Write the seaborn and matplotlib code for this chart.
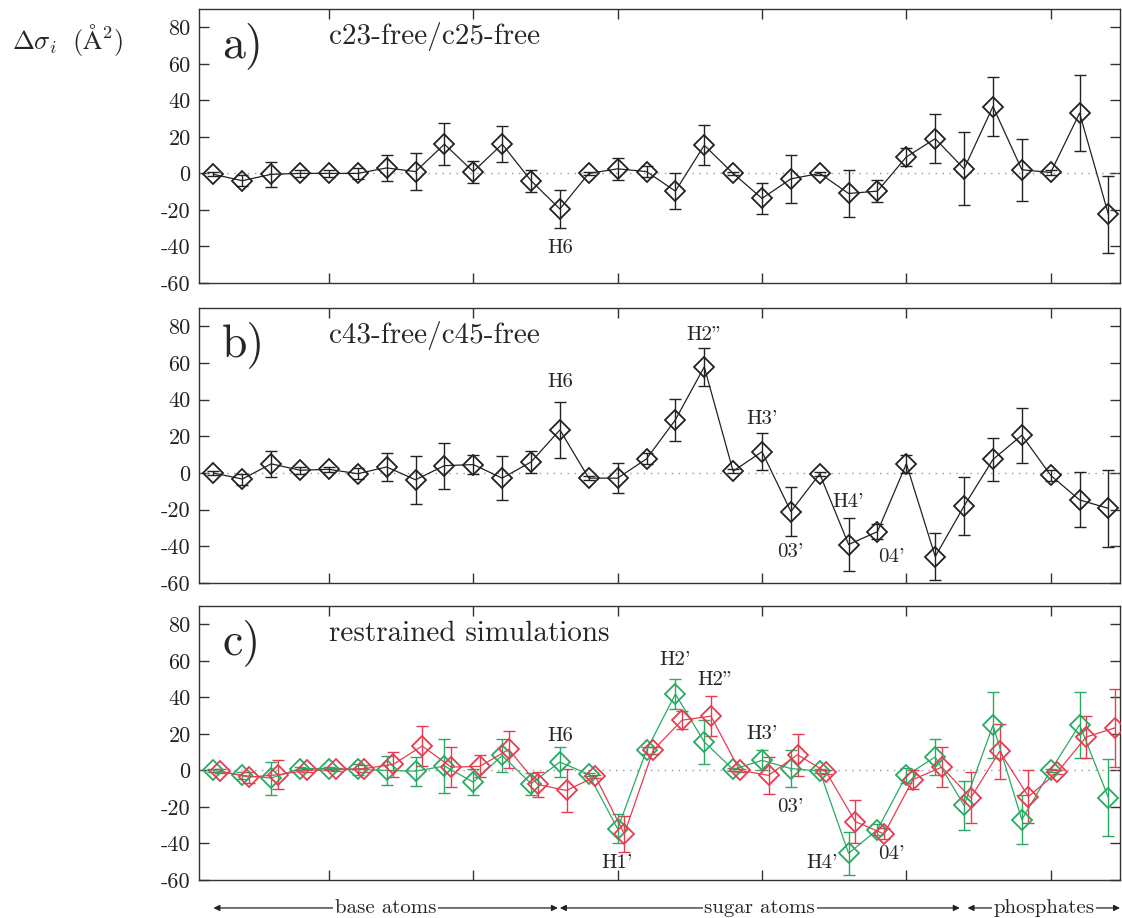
import numpy as np
import pandas as pd
import matplotlib
matplotlib.use("Agg")
import matplotlib.pyplot as plt
import seaborn as sns

# atom index along the x axis
atoms = list(range(1, 33))

# panel a) c23-free/c25-free
a_val = [-0.5, -4, -0.5, 0, 0, 0, 3, 1, 16, 1, 16, -4, -19.5, 0, 2.5, 1,
         -9.7, 15.4, 0, -13.7, -3, 0, -11, -9.7, 9, 19, 2.5, 36.6, 2, 0.5, 33, -22.5]
a_err = [1, 3, 7, 2, 2, 3, 7, 10, 11.5, 6, 10, 6, 10.5, 1, 6, 3,
         10, 11, 1, 8.5, 13, 1, 13, 6, 5, 13.5, 20, 16, 17, 1.5, 21, 21]

# panel b) c43-free/c45-free
b_val = [0, -3.3, 5, 1.5, 2, -0.4, 3.3, -3.7, 4, 4.6, -2.8, 6, 23.5, -2.8, -2.8, 7.7,
         29, 57.9, 1, 11.6, -21, -0.5, -39, -32, 5, -45.6, -18, 7.4, 20.6, -1.3, -14.7, -19.3]
b_err = [1, 3, 7, 2, 1.5, 3, 7.5, 13, 12.5, 5, 12, 6, 15.5, 1, 8, 3,
         11.5, 10.5, 1, 10, 13.5, 1, 14.7, 4, 5, 13, 16, 11.8, 15, 3, 15, 21]

# panel c) restrained simulations, two series
g_val = [0, -2.7, -4.2, 1, 1, 0.5, 0, -0.4, 2.4, -6.4, 8.2, -7.3, 4.6, -2.2, -32, 11,
         41.8, 15.6, 0.5, 5.5, 1, -0.4, -45.4, -32.4, -2.7, 7.3, -19.2, 24.7, -27, 0, 25, -15]
g_err = [1, 2, 9, 1, 1, 3, 8, 8, 14.8, 7, 9, 6, 8, 1, 8, 2,
         8.2, 12, 1, 5.5, 10, 1, 11.7, 3, 4, 10, 13.5, 18, 13.5, 1, 18, 21]
r_val = [-0.4, -3.7, -2.4, 0, 0.5, 1, 3.3, 13.4, 1.8, 2.2, 11.5, -7.7, -11, -3.3, -34.8, 11,
         27.5, 29.7, 0, -2.7, 8.6, -1, -28, -34.8, -5, 1.8, -15, 10.4, -14.3, -1, 18.3, 23.3]
r_err = [1, 3, 8, 1, 1, 2, 7, 11, 11, 6, 10, 7, 12, 1, 10, 2,
         5, 11, 1, 10, 11.5, 1, 12, 3, 5, 11, 14, 15, 14.5, 1, 11.5, 21.5]

# peak labels: (text, x, y)
a_labels = [("H6", 13, -41)]
b_labels = [("H6", 13, 49.5), ('H2"', 18, 75), ("H3'", 20, 29.5), ("03'", 21, -43),
            ("H4'", 23, -16), ("04'", 24.5, -46)]
c_labels = [("H6", 13, 19), ("H1'", 15, -50.5), ("H2'", 17, 60.5), ('H2"', 18.4, 49.5),
            ("H3'", 20, 20), ("03'", 21, -20), ("H4'", 22.1, -50.5), ("04'", 24.5, -46)]

# x-range groups under the last panel: (text, start, end)
groups = [("base atoms", 1.0, 12.93), ("sugar atoms", 13.0, 26.85), ("phosphates", 27.12, 32.4)]

sns.set_theme(style="white")
plt.rcParams["font.family"] = ["cmr10", "DejaVu Serif"]
plt.rcParams["mathtext.fontset"] = "cm"
plt.rcParams["axes.unicode_minus"] = False

green = "#28aa64"
red = "#e63c50"

fig = plt.figure(figsize=(11.22, 9.18), dpi=100)
W, H = 1122, 918
left, right = 199, 1120
rects = [(9, 283), (308, 583), (606, 880)]
axes = []
for top, bot in rects:
    ax = fig.add_axes([left / W, 1 - bot / H, (right - left) / W, (bot - top) / H])
    axes.append(ax)


def draw(ax, vals, errs, color, shift=0.0):
    x = np.array(atoms) + shift
    df = pd.DataFrame({"x": x, "y": vals})
    ax.errorbar(x, vals, yerr=errs, fmt="none", ecolor=color, elinewidth=1.0,
                capsize=4, capthick=1.0, zorder=2)
    sns.lineplot(data=df, x="x", y="y", ax=ax, color=color, lw=0.9, marker="D",
                 markersize=10, markerfacecolor="none", markeredgecolor=color,
                 markeredgewidth=1.3, zorder=3, sort=False)


draw(axes[0], a_val, a_err, "#222222")
draw(axes[1], b_val, b_err, "#222222")
draw(axes[2], g_val, g_err, green)
draw(axes[2], r_val, r_err, red, shift=0.23)

panel_info = [("a)", "c23-free/c25-free", a_labels),
              ("b)", "c43-free/c45-free", b_labels),
              ("c)", "restrained simulations", c_labels)]

for ax, (tag, title, labels) in zip(axes, panel_info):
    ax.axhline(0, color="#999999", ls=(0, (1, 4)), lw=1, zorder=1)
    ax.set_xlim(0.5, 32.4)
    ax.set_ylim(-60, 90)
    ax.set_xticks([5, 10, 15, 20, 25, 30])
    ax.set_yticks(range(-60, 81, 20))
    ax.set_xticklabels([])
    ax.tick_params(axis="both", direction="in", length=7, width=1, color="#333333",
                   top=True, right=True, bottom=True, left=True, labelsize=16,
                   pad=6, labelcolor="#222222")
    ax.set_xlabel("")
    ax.set_ylabel("")
    for s in ax.spines.values():
        s.set_color("#333333")
        s.set_linewidth(1)
    ax.text(1.3, 70, tag, fontsize=33, ha="left", va="center")
    ax.text(5.0, 75, title, fontsize=21, ha="left", va="center")
    for txt, lx, ly in labels:
        ax.text(lx, ly, txt, fontsize=15, ha="center", va="center")

# group arrows below the bottom panel
axc = axes[2]
yfrac = -0.102
tr = axc.get_xaxis_transform()
for txt, x0, x1 in groups:
    axc.annotate("", xy=(x1, yfrac), xytext=(x0, yfrac), xycoords=tr, textcoords=tr,
                 arrowprops=dict(arrowstyle="<|-|>", color="#222222", lw=0.9,
                                 mutation_scale=9, shrinkA=0, shrinkB=0),
                 annotation_clip=False)
    axc.text((x0 + x1) / 2, yfrac, txt, transform=tr, fontsize=15, ha="center",
             va="center", bbox=dict(fc="white", ec="none", pad=1))

fig.text(68 / W, 1 - 40 / H, r"$\Delta\sigma_i\ \ (\mathrm{\AA}^2)$", fontsize=19,
         ha="center", va="center")

fig.savefig("out.png", dpi=100)
